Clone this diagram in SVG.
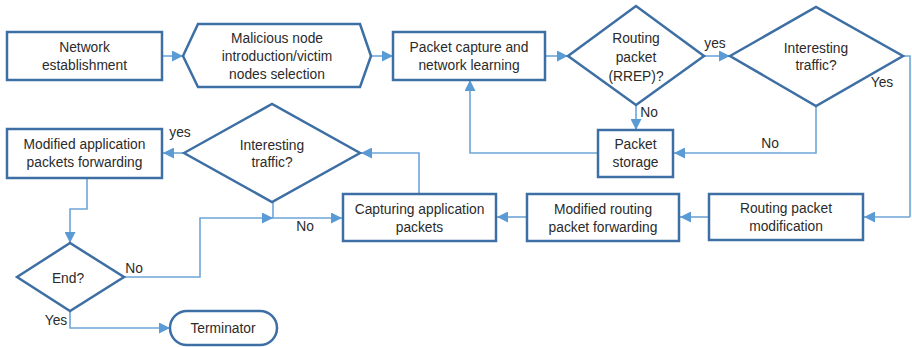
<svg xmlns="http://www.w3.org/2000/svg" width="912" height="347" viewBox="0 0 912 347">
<defs>
<marker id="ah" markerWidth="11" markerHeight="11" refX="11" refY="5.5" orient="auto" markerUnits="userSpaceOnUse">
<path d="M0,0 L11,5.5 L0,11 Z" fill="#5b9bd5"/>
</marker>
<style>
.s{fill:#fff;stroke:#3d6fa4;stroke-width:2.5}
.c{fill:none;stroke:#6fa5d8;stroke-width:1.6;marker-end:url(#ah)}
.n{fill:none;stroke:#6fa5d8;stroke-width:1.6}
text{font-family:"Liberation Sans",Arial,sans-serif;font-size:13.8px;fill:#2b2b2b;text-anchor:middle;dominant-baseline:central}
</style>
</defs>
<rect width="912" height="347" fill="#fff"/>
<g id="connectors">
<path class="c" d="M162,56 L183,56"/>
<path class="c" d="M371,56 L393,56"/>
<path class="c" d="M545,56 L568,56"/>
<path class="c" d="M704,56 L730,56"/>
<path class="c" d="M636,105 L636,130"/>
<path class="c" d="M816,106 L816,153 L674,153"/>
<path class="c" d="M598,153 L470,153 L470,80"/>
<path class="n" d="M903,56 L910,56 L910,217"/>
<path class="c" d="M910,217 L864,217"/>
<path class="c" d="M709,217 L680,217"/>
<path class="c" d="M527,217 L497,217"/>
<path class="c" d="M419,194 L419,153 L361,153"/>
<path class="c" d="M184,153 L163,153"/>
<path class="c" d="M87,178 L87,209 L70,209 L70,243"/>
<path class="c" d="M273,202 L273,218 L342,218"/>
<path class="c" d="M124,277 L200,277 L200,218 L273,218"/>
<path class="c" d="M70,311 L70,328 L170,328"/>
</g>
<g id="n1"><rect class="s" x="7" y="32" width="155" height="48"/><text x="84.5" y="47">Network</text><text x="84.5" y="65">establishment</text></g>
<g id="n2"><polygon class="s" points="183,56 198,24 360,24 371,56 360,87 198,87"/><text x="277" y="38">Malicious node</text><text x="277" y="56">introduction/victim</text><text x="277" y="74">nodes selection</text></g>
<g id="n3"><rect class="s" x="393" y="32" width="152" height="48"/><text x="469" y="47">Packet capture and</text><text x="469" y="65">network learning</text></g>
<g id="d1"><polygon class="s" points="568,56 636,6 704,56 636,105"/><text x="636" y="38">Routing</text><text x="636" y="57">packet</text><text x="636" y="76">(RREP)?</text></g>
<g id="d2"><polygon class="s" points="730,56 816,7 903,56 816,106"/><text x="816" y="48">Interesting</text><text x="816" y="65">traffic?</text></g>
<g id="n4"><rect class="s" x="598" y="130" width="75" height="47"/><text x="635.5" y="144">Packet</text><text x="635.5" y="162">storage</text></g>
<g id="n5"><rect class="s" x="709" y="194" width="154" height="46"/><text x="786" y="208">Routing packet</text><text x="786" y="226">modification</text></g>
<g id="n6"><rect class="s" x="527" y="194" width="152" height="47"/><text x="603" y="209">Modified routing</text><text x="603" y="227">packet forwarding</text></g>
<g id="n7"><rect class="s" x="343" y="194" width="153" height="47"/><text x="419.5" y="209">Capturing application</text><text x="419.5" y="227">packets</text></g>
<g id="d3"><polygon class="s" points="184,153 272,104 360,153 272,202"/><text x="272" y="145">Interesting</text><text x="272" y="162">traffic?</text></g>
<g id="n8"><rect class="s" x="7" y="129" width="155" height="49"/><text x="84.5" y="144">Modified application</text><text x="84.5" y="162">packets forwarding</text></g>
<g id="d4"><polygon class="s" points="17,277 70,243 124,277 70,311"/><text x="68" y="278">End?</text></g>
<g id="n9"><rect class="s" x="170" y="311" width="107" height="34" rx="17"/><text x="223" y="328">Terminator</text></g>
<g id="labels">
<text x="715" y="43">yes</text>
<text x="882" y="82">Yes</text>
<text x="649" y="112">No</text>
<text x="770" y="143">No</text>
<text x="180" y="132">yes</text>
<text x="305" y="226">No</text>
<text x="134" y="268">No</text>
<text x="56" y="320">Yes</text>
</g>
</svg>
